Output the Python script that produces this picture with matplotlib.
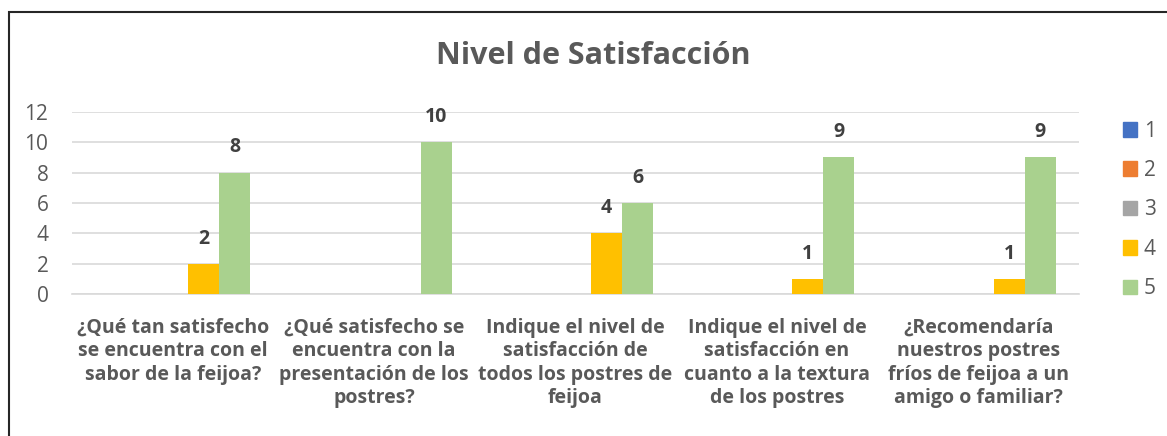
import numpy as np
import matplotlib.pyplot as plt
from matplotlib.patches import Rectangle, Patch

plt.rcParams['font.family'] = ['Open Sans', 'DejaVu Sans']

# Datos del grafico
categorias = ["¿Qué tan satisfecho\nse encuentra con el\nsabor de la feijoa?",
              "¿Qué satisfecho se\nencuentra con la\npresentación de los\npostres?",
              "Indique el nivel de\nsatisfacción de\ntodos los postres de\nfeijoa",
              "Indique el nivel de\nsatisfacción en\ncuanto a la textura\nde los postres",
              "¿Recomendaría\nnuestros postres\nfríos de feijoa a un\namigo o familiar?"]
series = ["1", "2", "3", "4", "5"]
valores_1 = [0, 0, 0, 0, 0]
valores_2 = [0, 0, 0, 0, 0]
valores_3 = [0, 0, 0, 0, 0]
valores_4 = [2, 0, 4, 1, 1]
valores_5 = [8, 10, 6, 9, 9]
colores = ["#4472C4", "#ED7D31", "#A5A5A5", "#FFC000", "#A9D18E"]

todos = [valores_1, valores_2, valores_3, valores_4, valores_5]

fig = plt.figure(figsize=(11.67, 4.36), dpi=100)
ax = fig.add_axes([72 / 1167, 1 - 294.3 / 436, 1007 / 1167, 182.6 / 436])

x = np.arange(len(categorias))
ancho = 0.154
for i, (vals, col) in enumerate(zip(todos, colores)):
    barras = ax.bar(x + (i - 2) * ancho, vals, ancho, color=col, zorder=3)
    for b, v in zip(barras, vals):
        if v > 0:
            ax.annotate(str(v), (b.get_x() + b.get_width() / 2, v),
                        xytext=(0, 11), textcoords="offset points",
                        ha="center", va="bottom", fontsize=14,
                        fontweight="bold", color="#404040")

ax.set_xlim(-0.5, len(categorias) - 0.5)
ax.set_ylim(0, 12)
ax.set_yticks(range(0, 13, 2))
ax.yaxis.grid(True, color="#D9D9D9", linewidth=1.2, zorder=0)
ax.set_xticks(x)
ax.set_xticklabels(categorias, fontsize=14, fontweight="bold", color="#595959",
                   linespacing=1.22)
ax.tick_params(axis="both", length=0, colors="#595959")
ax.tick_params(axis="x", pad=17)
ax.tick_params(axis="y", pad=17, labelsize=15)
for lado in ["top", "right", "left"]:
    ax.spines[lado].set_visible(False)
ax.spines["bottom"].set_color("#D9D9D9")
ax.spines["bottom"].set_linewidth(1.2)

fig.text(593 / 1167, 1 - 56 / 436, "Nivel de Satisfacción", ha="center",
         va="center", fontsize=22, fontweight="bold", color="#595959")

handles = [Patch(color=c, label=s) for s, c in zip(series, colores)]
fig.legend(handles=handles, loc="upper left", bbox_to_anchor=(1104 / 1167, 1 - 102 / 436),
           frameon=False, fontsize=15, labelcolor="#595959", handlelength=0.7,
           handleheight=0.7, handletextpad=0.3, labelspacing=0.88)

# Borde del area del grafico
fig.patches.append(Rectangle((9 / 1167, -0.1), 1.2, 1 - 12 / 436 + 0.1,
                             transform=fig.transFigure, fill=False,
                             edgecolor="#262626", linewidth=1.5))

fig.savefig("out.png", dpi=100)
